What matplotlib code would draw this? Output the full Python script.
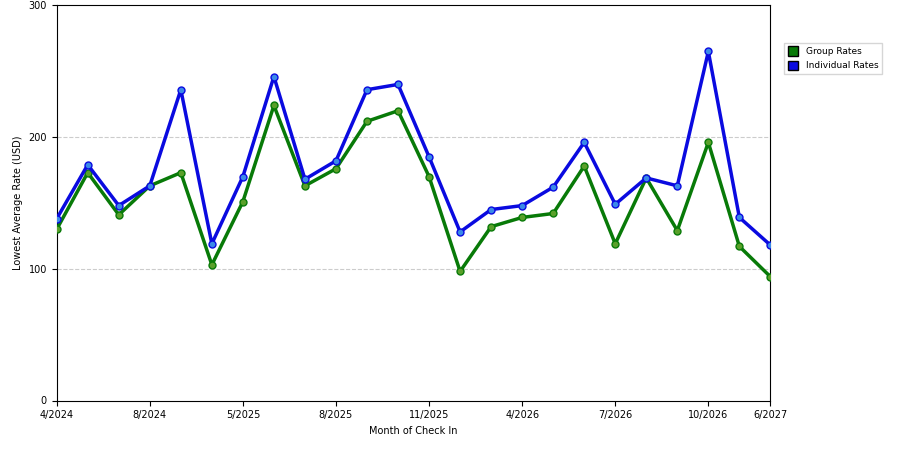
import matplotlib
matplotlib.use("Agg")
import matplotlib.pyplot as plt
from matplotlib.patches import Patch

group = [130,173,141,163,173,103,151,224,163,176,212,220,170,98,132,139,142,178,119,169,129,196,117,94]
indiv = [138,179,148,163,236,119,170,246,168,182,236,240,185,128,145,148,162,196,149,169,163,265,139,118]
tick_idx = [0,3,6,9,12,15,18,21,23]
tick_labels = ["4/2024","8/2024","5/2025","8/2025","11/2025","4/2026","7/2026","10/2026","6/2027"]

fig = plt.figure(figsize=(9,4.5), dpi=100)
ax = fig.add_axes([0.063, 0.11, 0.793, 0.878])
x = list(range(len(group)))
ax.plot(x, group, color="#087a08", lw=2.5, marker="o", ms=5, mfc="#5aa02a", mec="#087a08", zorder=3)
ax.plot(x, indiv, color="#0a0ae0", lw=2.5, marker="o", ms=5, mfc="#3a8ae8", mec="#0a0ae0", zorder=3)
ax.set_xlim(0, len(group)-1)
ax.set_ylim(0, 300)
ax.set_yticks([0,100,200,300])
ax.set_xticks(tick_idx)
ax.set_xticklabels(tick_labels)
ax.tick_params(labelsize=7)
for y in [100,200]:
    ax.axhline(y, color="#cccccc", ls="--", lw=0.8, zorder=1)
ax.set_xlabel("Month of Check In", fontsize=7)
ax.set_ylabel("Lowest Average Rate (USD)", fontsize=7)
fig.legend(handles=[Patch(fc="#087a08", ec="black", label="Group Rates"),
                    Patch(fc="#0a0ae0", ec="black", label="Individual Rates")],
           loc="upper left", bbox_to_anchor=(0.866, 0.915), fontsize=6.5,
           frameon=True, fancybox=False, edgecolor="#cccccc", handlelength=1.2, handleheight=1.2)
fig.savefig("out.png")
